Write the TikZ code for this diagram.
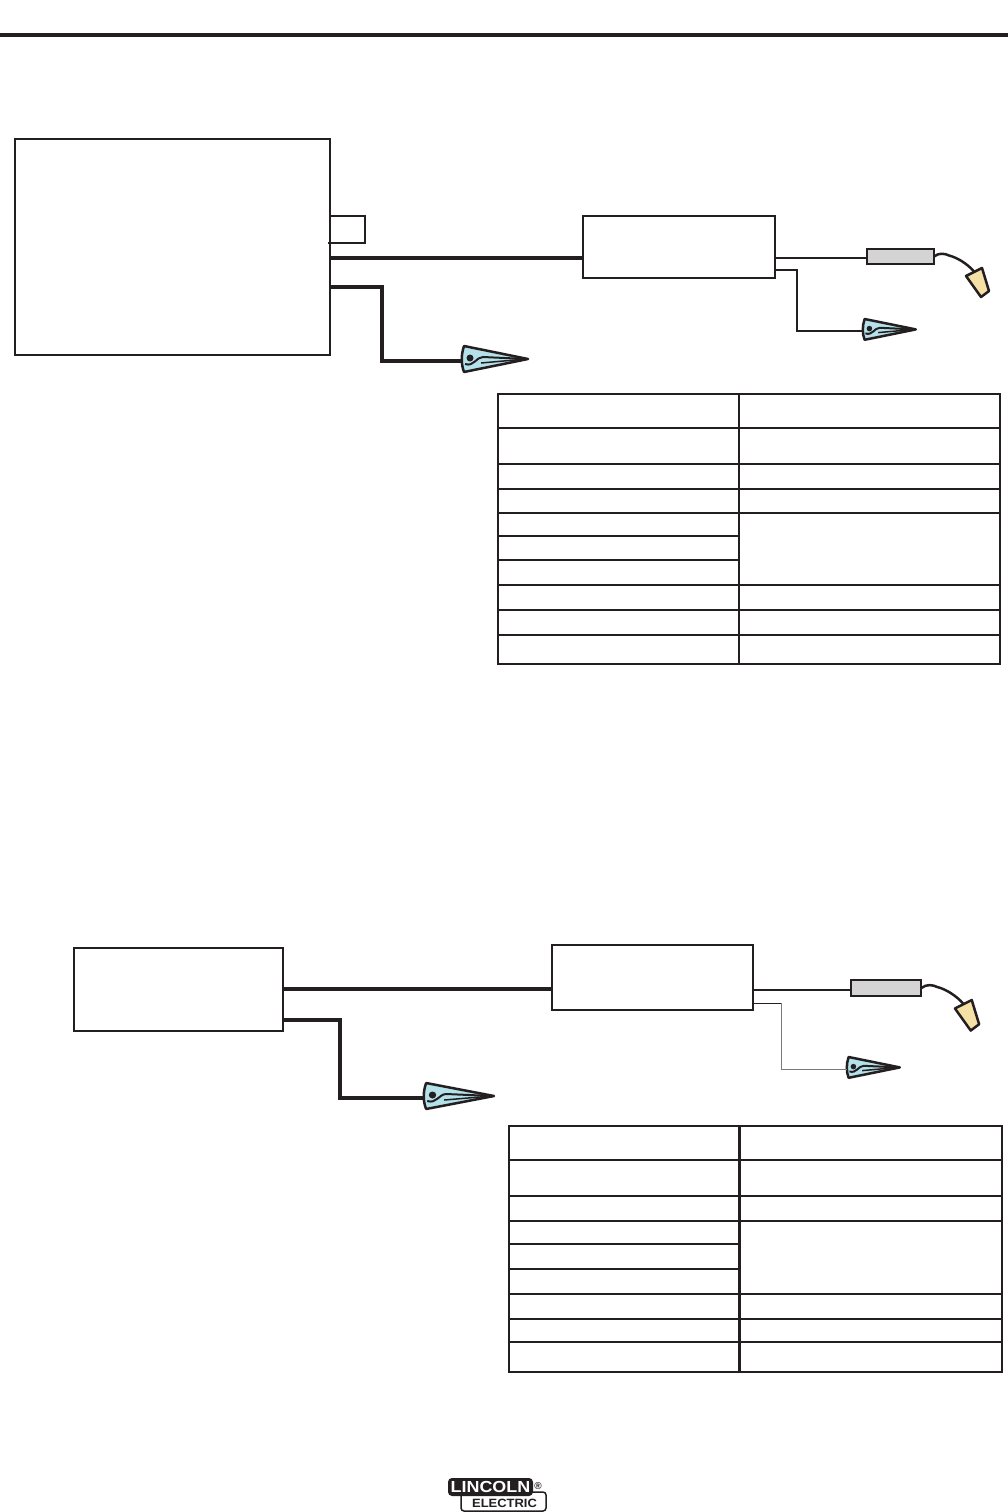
\documentclass[tikz,border=0pt]{standalone}
\usepackage{xcolor}
\usepackage{fontspec}
\newfontfamily\logofont{Liberation Sans}
\definecolor{ink}{HTML}{231F20}
\definecolor{clampblue}{HTML}{B5E2EA}
\definecolor{torchgrey}{HTML}{D5D4D4}
\definecolor{handlecream}{HTML}{F5E0A5}
\tikzset{
	unitbox/.style={draw=ink,line width=2pt,inner sep=0pt,outer sep=0pt},
	heavywire/.style={draw=ink,line width=4pt,line join=miter},
	lightwire/.style={draw=ink,line width=2pt,line join=miter},
	tablerule/.style={draw=ink,line width=2pt},
	clamp/.pic={
		\coordinate (-in) at (0,0);
		\draw[draw=ink,fill=clampblue,line width=2.5pt,line join=round]
			(2,-15) -- (66,-2) -- (2,11) .. controls (-1,3) and (-1,-6) .. cycle;
		\fill[ink] (8,-3) circle (3.5);
		\draw[ink,line width=2pt] (3,3) .. controls (12,6) and (14,-4) .. (21,-4) -- (64,-2);
		\draw[ink,line width=1.5pt] (19,2) -- (64,-2);
	},
	torch/.pic={
		\coordinate (-in) at (0,1.5);
		\node[draw=ink,fill=torchgrey,line width=2pt,inner sep=0pt,outer sep=0pt,minimum width=67pt,minimum height=15pt,transform shape] (-body) at (33.5,0) {};
		\draw[ink,line width=2.5pt] (67,0) .. controls (72,-4) and (78,-3) .. (82,-1) .. controls (90,1) and (100,7) .. (107,15);
		\draw[draw=ink,fill=handlecream,line width=2.5pt,line join=round]
			(99,19.5) -- (115,11.5) -- (122,34.5) -- (114,40.5) -- cycle;
	}
}

\begin{document}
\begin{tikzpicture}[x=1pt,y=-1pt]
	\useasboundingbox (0,0) rectangle (1008,1512);
	% top rule
	\coordinate (ruleL) at (0,35);
	\coordinate (ruleR) at (1008,35);
	\draw[ink,line width=4pt] (ruleL) -- (ruleR);
	%
	% upper set-up
	\node[unitbox,minimum width=315pt,minimum height=216pt] (srcA) at (172.5,247) {};
	\node[unitbox,minimum width=192pt,minimum height=62pt] (feedA) at (679,247) {};
	\pic (clampA) at (462,361) {clamp};
	\pic[scale=.8] (clampB) at (863,331) {clamp};
	\pic (torchA) at (867,256.5) {torch};
	\path[ink]
	(srcA.east |- 0,216) coordinate (loopA)
	(srcA.east |- 0,243) coordinate (loopB);
	\draw[draw=ink,line width=1.5pt] (loopA) -- ++(35,0) -- ++(0,27) -- ([xshift=-2pt]loopB);
	\draw[heavywire] (srcA.east |- 0,258) -- (feedA.west |- 0,258);
	\draw[heavywire] (srcA.east |- 0,287) -- ++(52,0) |- (clampA-in);
	\draw[lightwire] (feedA.east |- torchA-in) -- (torchA-in);
	\draw[lightwire] (feedA.east |- 0,270) -- ++(22,0) |- (clampB-in);
	%
	% upper table
	\draw[tablerule] (498,394) rectangle (1000,664);
	\draw[tablerule] (739,394) -- (739,664);
	\foreach \rowy in {428,464,489,513,585,610,635}
		\draw[tablerule] (498,\rowy) -- (1000,\rowy);
	\foreach \rowy in {536,560}
		\draw[tablerule] (498,\rowy) -- (739,\rowy);
	%
	% lower set-up
	\node[unitbox,minimum width=209pt,minimum height=83pt] (srcB) at (178.5,989.5) {};
	\node[unitbox,minimum width=201pt,minimum height=65pt] (feedB) at (652.5,977.5) {};
	\pic[xscale=1.06] (clampC) at (424,1098) {clamp};
	\pic[scale=.8] (clampD) at (847,1069) {clamp};
	\pic[scale=1.05] (torchB) at (851,988) {torch};
	\draw[heavywire] (srcB.east |- 0,989) -- (feedB.west |- 0,989);
	\draw[heavywire] (srcB.east |- 0,1020) -- ++(57,0) |- (clampC-in);
	\draw[lightwire] (feedB.east |- torchB-in) -- (torchB-in);
	\draw[draw=ink,line width=1pt] (feedB.east |- 0,1003) -- ++(28,0);
	\draw[draw=ink!60,line width=1pt] (781,1003) |- (clampD-in);
	%
	% lower table
	\draw[tablerule] (509,1126) rectangle (1002,1372);
	\draw[draw=ink,line width=3pt] (739,1126) -- (739,1372);
	\foreach \rowy in {1160,1196,1221,1294,1319,1342}
		\draw[tablerule] (509,\rowy) -- (1002,\rowy);
	\foreach \rowy in {1244,1269}
		\draw[tablerule] (509,\rowy) -- (739,\rowy);
	%
	% logo
	\node[draw=ink,fill=white,line width=1.5pt,rounded corners=3pt,inner sep=0pt,minimum width=85pt,minimum height=19pt] (logoB) at (503.5,1501.5) {};
	\node[fill=ink,rounded corners=4pt,inner sep=0pt,minimum width=85pt,minimum height=18pt] (logoA) at (490.5,1487) {};
	\node[text=white,font=\logofont\bfseries\fontsize{16}{16}\selectfont,xscale=1.12,inner sep=0pt] (logoname) at (logoA) {LINCOLN};
	\node[text=ink,font=\logofont\bfseries\fontsize{12}{12}\selectfont,xscale=1.08,inner sep=0pt] (logosub) at (504.5,1503) {ELECTRIC};
	\node[text=ink,font=\logofont\bfseries\fontsize{10}{10}\selectfont,inner sep=0pt] (logoreg) at (538,1486) {®};
\end{tikzpicture}
\end{document}
